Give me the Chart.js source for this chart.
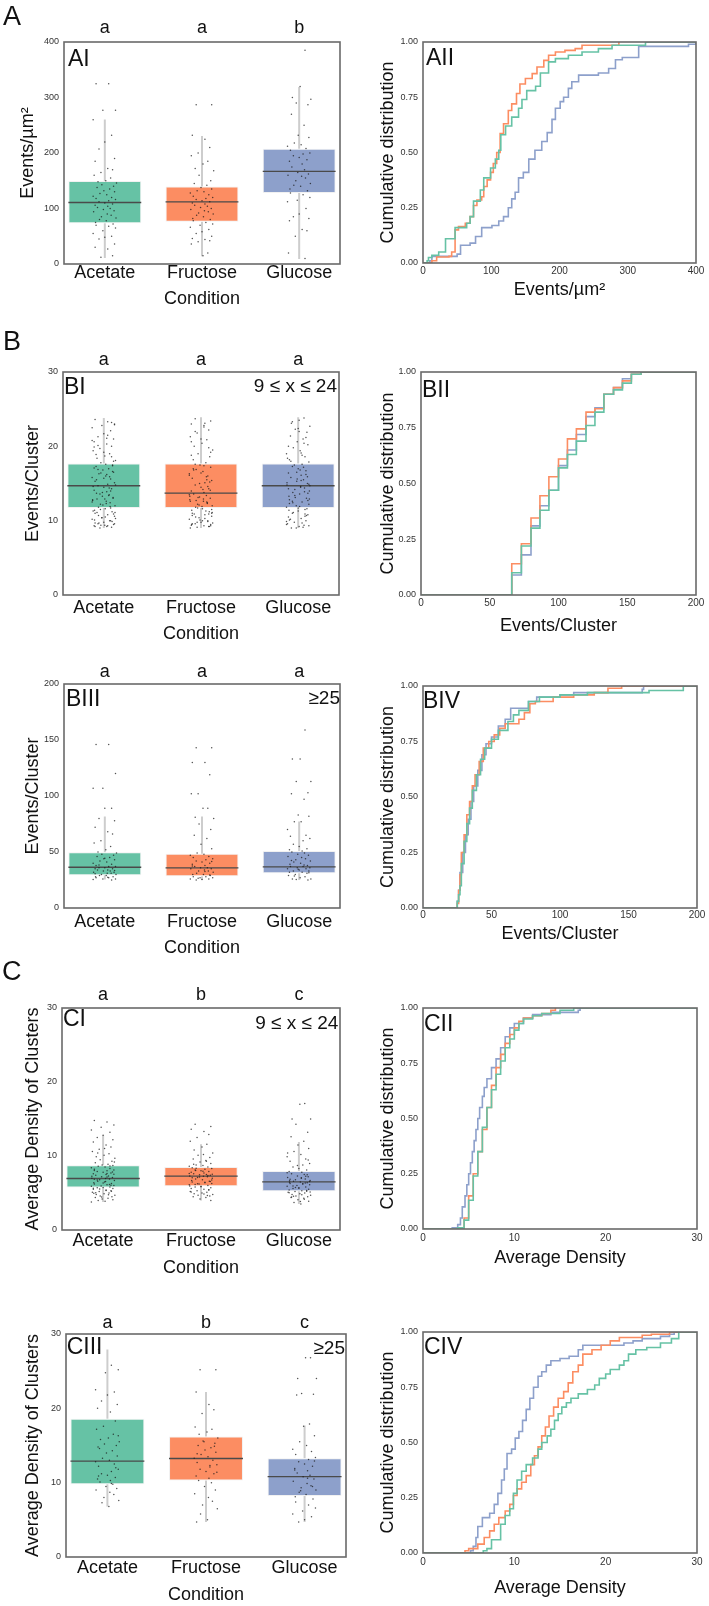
<!DOCTYPE html>
<html><head><meta charset="utf-8">
<script src="https://cdn.jsdelivr.net/npm/chart.js@4.4.1/dist/chart.umd.min.js"></script>
<style>
html,body{margin:0;padding:0;background:#fff;}
#wrap{position:relative;width:709px;height:1606px;overflow:hidden;font-family:"Liberation Sans",Arial,sans-serif;color:#111;}
canvas{position:absolute;}
.lbl{position:absolute;line-height:1;white-space:nowrap;color:#111;}
</style></head><body><div id="wrap"></div>
<script>
// ---------- categories ----------
const GROUPS = ['Acetate', 'Fructose', 'Glucose'];
const GROUP_COLORS = ['#66c2a5', '#fc8d62', '#8da0cb'];
const JIT = [-0.09,0.04,0.11,-0.02,-0.12,0.07,0.00,-0.06,0.10,-0.10,0.03,0.08,-0.04,-0.11,0.06,0.01,-0.07,0.12,-0.03,0.09,-0.08,0.05,-0.01,0.10,-0.05,0.02,-0.12,0.07,-0.09,0.11,0.04,-0.06,0.00,0.08,-0.10,0.03,-0.075,0.055,-0.015,0.095,-0.115,0.025,0.065,-0.035,0.115,-0.055,0.015,-0.095,0.085];

// ---------- AI : Events/µm² ----------
const AI_LETTERS = ['a', 'a', 'b'];
const AI_Q1 = [73.6, 76, 128];
const AI_MED = [110.8, 112, 167];
const AI_Q3 = [149.7, 139.5, 207.8];
const AI_LO = [10.8, 13.8, 9];
const AI_HI = [260.5, 230.5, 319];
const AI_ACETATE = [325,325,277,277,260,232,220,207,190,185,172,170,165,160,155,150,148,146,143,140,138,135,132,130,127,125,122,120,118,116,114,112,110,108,106,104,102,100,98,96,94,90,88,85,83,80,78,75,72,70,68,65,60,55,50,48,45,36,30,27,15,12];
const AI_FRUCTOSE = [287,287,232,225,210,200,195,185,180,172,168,160,150,145,142,138,135,132,130,128,125,122,120,118,116,114,112,110,108,106,104,102,100,98,96,94,92,90,88,85,82,80,78,75,72,70,66,62,58,55,50,46,44,42,40,36,20,15];
const AI_GLUCOSE = [385,320,300,297,290,287,270,250,232,228,218,215,212,208,205,200,198,195,192,188,185,180,175,170,165,162,160,158,155,150,145,142,140,135,132,128,125,120,115,112,100,90,85,82,78,62,60,50,20,10];

// ---------- AII ----------
const AII_ACETATE = [[0,0],[6,0.01],[8,0.025],[13,0.035],[23,0.05],[33,0.11],[47,0.16],[64,0.18],[69,0.21],[74,0.28],[84,0.33],[89,0.385],[99,0.43],[106,0.47],[111,0.51],[114,0.58],[121,0.62],[130,0.66],[140,0.70],[145,0.74],[152,0.78],[165,0.80],[172,0.86],[184,0.91],[194,0.925],[213,0.94],[233,0.955],[257,0.97],[277,0.985],[326,1.0],[400,1.0]];
const AII_FRUCTOSE = [[0,0],[13,0.01],[20,0.027],[38,0.03],[42,0.05],[47,0.15],[52,0.165],[62,0.18],[69,0.21],[74,0.26],[79,0.285],[86,0.30],[89,0.346],[94,0.376],[99,0.41],[103,0.45],[108,0.50],[113,0.586],[118,0.63],[125,0.69],[130,0.72],[137,0.767],[142,0.81],[150,0.835],[160,0.857],[167,0.887],[177,0.917],[184,0.94],[194,0.955],[208,0.962],[223,0.97],[233,0.985],[287,1.0]];
const AII_GLUCOSE = [[0,0],[10,0.01],[13,0.03],[50,0.04],[55,0.08],[69,0.09],[77,0.12],[86,0.16],[101,0.17],[111,0.19],[118,0.21],[125,0.25],[130,0.29],[135,0.32],[140,0.385],[147,0.41],[155,0.47],[164,0.51],[174,0.55],[182,0.59],[189,0.65],[194,0.70],[201,0.73],[206,0.75],[213,0.79],[218,0.82],[228,0.85],[257,0.86],[272,0.88],[282,0.92],[292,0.93],[316,0.98],[389,0.99],[400,1.0]];

// ---------- BI : Events/Cluster 9-24 ----------
const BI_LETTERS = ['a', 'a', 'a'];
const BI_Q1 = [11.7, 11.7, 11.7];
const BI_MED = [14.7, 13.7, 14.7];
const BI_Q3 = [17.7, 17.7, 17.7];
const BI_LO = [9, 9, 9];
const BI_HI = [23.8, 23.9, 23.9];
const BI_ACETATE = [23.6,23.3,23.0,22.8,22.5,22.1,21.7,21.3,21.0,20.6,20.3,20.0,19.7,19.4,19.0,18.7,18.4,18.1,17.8,17.5,17.3,17.0,16.8,16.5,16.3,16.0,15.8,15.6,15.3,15.1,14.9,14.7,14.5,14.3,14.1,13.9,13.7,13.5,13.3,13.0,12.8,12.6,12.4,12.2,12.0,11.8,11.6,11.4,11.2,11.0,10.8,10.6,10.4,10.2,10.0,9.8,9.6,9.5,9.3,9.2,9.1,9.0,14.6,15.9,12.9,11.1,10.3,9.4,16.6,18.9,13.4,12.1,10.9,9.7,17.6,20.8,11.7,9.2,22.9,21.5,20.1,19.2,18.6,17.1,16.2,15.5,14.4,13.8,13.1,12.7,12.3,11.9,11.5,11.1,10.7,10.5,10.1,9.9,9.7,9.3,9.6,10.4,12.5,14.0,15.7,16.9,18.0,19.9,21.1,23.2,13.6,11.3,10.0,9.4,12.9,14.8,16.4,17.4];
const BI_FRUCTOSE = [23.7,23.4,23.0,22.6,22.2,21.8,21.3,20.9,20.4,20.0,19.5,19.0,18.6,18.2,17.8,17.5,17.2,16.9,16.6,16.3,16.0,15.7,15.4,15.1,14.8,14.5,14.3,14.0,13.8,13.6,13.4,13.2,13.0,12.8,12.6,12.4,12.2,12.0,11.8,11.6,11.4,11.2,11.0,10.8,10.6,10.4,10.2,10.0,9.8,9.6,9.5,9.4,9.3,9.2,9.1,9.0,12.5,11.9,10.9,9.7,13.1,15.2,17.0,11.3,10.1,9.3,12.7,14.2,16.1,9.9,10.7,11.5,23.1,22.0,21.0,19.8,18.8,17.4,16.8,15.9,15.0,14.1,13.3,12.9,12.3,11.7,11.1,10.5,10.0,9.5,9.2,9.6,10.3,11.0,12.1,13.5,14.6,16.4,17.6,19.2,20.6,22.8,10.9,9.8,12.6,15.5];
const BI_GLUCOSE = [23.8,23.5,23.1,22.7,22.3,21.9,21.4,21.0,20.6,20.2,19.8,19.4,19.0,18.6,18.2,17.9,17.6,17.3,17.0,16.7,16.4,16.1,15.8,15.5,15.3,15.0,14.8,14.6,14.4,14.2,14.0,13.8,13.6,13.3,13.0,12.8,12.5,12.2,12.0,11.8,11.5,11.3,11.0,10.8,10.5,10.3,10.0,9.8,9.6,9.4,9.2,9.0,14.7,13.1,11.6,10.2,9.1,15.6,12.7,11.1,16.8,9.5,10.9,12.3,14.9,18.8,23.3,22.4,21.2,20.0,19.1,18.0,17.2,16.5,15.9,15.1,14.5,13.9,13.4,12.9,12.4,11.9,11.4,10.7,10.1,9.7,9.3,9.0,9.9,10.6,11.7,12.6,13.7,14.3,15.4,16.2,17.5,18.4,20.4,22.0];

// ---------- BII ----------
const BII_ACETATE = [[0,0],[66,0.10],[73,0.22],[80,0.30],[86.5,0.38],[93,0.47],[100,0.57],[106.5,0.63],[113,0.69],[120,0.76],[126.5,0.82],[133,0.90],[140,0.92],[146.5,0.95],[153,0.99],[160,1.0],[200,1.0]];
const BII_FRUCTOSE = [[0,0],[66,0.14],[73,0.23],[80,0.345],[86.5,0.445],[93,0.53],[100,0.61],[106.5,0.70],[113,0.745],[120,0.82],[126.5,0.835],[133,0.90],[140,0.93],[146.5,0.96],[153,0.99],[160,1.0],[200,1.0]];
const BII_GLUCOSE = [[0,0],[66,0.09],[73,0.18],[80,0.31],[86.5,0.40],[93,0.47],[100,0.58],[106.5,0.65],[113,0.72],[120,0.80],[126.5,0.84],[133,0.90],[140,0.93],[146.5,0.97],[153,0.99],[160,1.0],[200,1.0]];

// ---------- BIII : Events/Cluster >=25 ----------
const BIII_LETTERS = ['a', 'a', 'a'];
const BIII_Q1 = [29.2, 28.3, 31];
const BIII_MED = [36.4, 35.8, 36.7];
const BIII_Q3 = [49.7, 48.5, 51];
const BIII_LO = [25.4, 25, 25];
const BIII_HI = [81.8, 81.8, 77.3];
const BIII_ACETATE = [146,146,120,107,107,89,89,80,78,72,68,66,60,58,55,52,50,49,48,47,46,45,44,43,42,41,40,39,38,37,37,36,36,35,35,34,34,33,33,32,32,31,31,30,30,29,29,28,28,27,27,26,26,25.5,25,44.5,38.5,33.5,30.5,27.5];
const BIII_FRUCTOSE = [143,143,130,130,119,102,102,89,89,81,80,75,70,65,62,57,53,49,48,47,46,45,44,43,42,41,40,39,38,37,36,36,35,35,34,33,33,32,31,30,30,29,28,28,27,27,26,26,25.5,25,41.5,37.5,32.5,29.5,26.5];
const BIII_GLUCOSE = [159,133,133,113,113,103,102,97,83,82,77,77,70,65,64,62,60,57,55,53,52,51,50,49,48,47,46,45,44,43,42,41,40,39,38,37,37,36,36,35,35,34,33,33,32,32,31,30,29,28,27,26,26,25.5,25,42.5,38.5,34.5,31.5,28.5];

// ---------- BIV ----------
const BIV_ACETATE = [[0,0],[25,0.03],[26,0.06],[27,0.10],[28,0.20],[30,0.30],[32,0.38],[34,0.45],[36,0.53],[39,0.60],[42,0.67],[45,0.72],[50,0.76],[55,0.80],[62,0.84],[66,0.87],[70,0.89],[77,0.93],[85,0.95],[100,0.96],[120,0.97],[165,0.98],[190,1.0],[200,1.0]];
const BIV_FRUCTOSE = [[0,0],[25,0.02],[26,0.08],[27,0.15],[28,0.25],[30,0.33],[32,0.42],[34,0.48],[36,0.55],[38,0.60],[41,0.66],[44,0.72],[48,0.75],[52,0.78],[56,0.81],[60,0.83],[70,0.85],[74,0.88],[78,0.92],[82,0.93],[95,0.95],[110,0.96],[125,0.97],[135,0.99],[145,1.0],[200,1.0]];
const BIV_GLUCOSE = [[0,0],[25,0.03],[26,0.08],[27,0.16],[29,0.25],[31,0.33],[33,0.40],[35,0.48],[37,0.55],[40,0.62],[43,0.69],[46,0.74],[50,0.77],[55,0.82],[60,0.85],[64,0.90],[77,0.93],[83,0.95],[100,0.96],[110,0.97],[160,0.985],[161,1.0],[200,1.0]];

// ---------- CI : Average Density 9-24 ----------
const CI_LETTERS = ['a', 'b', 'c'];
const CI_Q1 = [5.75, 5.9, 5.25];
const CI_MED = [6.96, 7.27, 6.5];
const CI_Q3 = [8.75, 8.5, 7.98];
const CI_LO = [3.8, 4.0, 3.5];
const CI_HI = [12.8, 11.6, 11.9];
const CI_ACETATE = [14.8,14.6,14.2,13.9,13.5,13.2,12.8,12.5,12.2,11.9,11.5,11.2,10.9,10.6,10.3,10.1,9.9,9.7,9.5,9.3,9.1,8.9,8.8,8.7,8.6,8.5,8.4,8.3,8.2,8.1,8.0,7.9,7.8,7.7,7.6,7.5,7.4,7.3,7.2,7.1,7.0,6.95,6.9,6.8,6.7,6.6,6.5,6.4,6.3,6.2,6.1,6.0,5.95,5.9,5.8,5.75,5.7,5.6,5.5,5.4,5.3,5.2,5.1,5.0,4.9,4.8,4.7,4.6,4.5,4.4,4.3,4.2,4.1,4.0,3.9,3.8,8.65,8.05,7.55,7.15,6.75,6.35,6.05,5.65,5.35,5.05,4.75,4.45,7.85,7.25,6.55,6.15,5.55,9.2,10.4,11.0,4.95,5.25,6.85,7.65];
const CI_FRUCTOSE = [14.3,14.0,13.6,13.3,12.9,12.5,12.0,11.6,11.2,10.8,10.4,10.1,9.8,9.6,9.4,9.2,9.0,8.8,8.7,8.6,8.5,8.4,8.3,8.2,8.1,8.0,7.9,7.8,7.7,7.6,7.5,7.45,7.4,7.3,7.25,7.2,7.1,7.0,6.9,6.8,6.7,6.6,6.5,6.4,6.3,6.2,6.1,6.0,5.9,5.8,5.7,5.6,5.5,5.4,5.3,5.2,5.1,5.0,4.9,4.8,4.7,4.6,4.5,4.4,4.2,4.0,8.35,7.95,7.65,7.35,7.05,6.75,6.45,6.15,5.85,5.45,5.15,4.85,8.9,9.3,7.15,6.55,5.95,10.2,4.65,6.25,7.55,8.05];
const CI_GLUCOSE = [17.1,17.0,15.0,15.0,14.3,13.2,12.6,12.0,11.5,11.0,10.6,10.2,9.9,9.6,9.3,9.0,8.8,8.5,8.3,8.1,7.9,7.8,7.6,7.5,7.3,7.2,7.1,7.0,6.9,6.8,6.7,6.6,6.5,6.45,6.4,6.3,6.2,6.1,6.0,5.9,5.8,5.7,5.6,5.5,5.4,5.3,5.25,5.2,5.1,5.0,4.9,4.8,4.7,4.6,4.5,4.4,4.3,4.1,3.9,3.7,3.5,7.75,7.25,6.85,6.55,6.25,5.95,5.65,5.35,5.05,4.75,4.45,4.15,8.7,9.45,10.4,7.05,6.35,5.75,5.15,4.55,3.85,6.65,7.45];

// ---------- CII ----------
const CII_ACETATE = [[0,0],[3.8,0.005],[4.5,0.04],[5.0,0.13],[5.5,0.24],[6.0,0.35],[6.5,0.46],[7.0,0.55],[7.5,0.63],[8.0,0.70],[8.5,0.76],[9.0,0.82],[9.5,0.86],[10.0,0.90],[10.5,0.93],[11,0.95],[12,0.965],[13,0.975],[15,0.99],[16.5,1.0],[30,1.0]];
const CII_FRUCTOSE = [[0,0],[3.8,0.005],[4.5,0.05],[5.0,0.15],[5.5,0.25],[6.0,0.35],[6.5,0.45],[7.0,0.55],[7.5,0.65],[8.0,0.73],[8.5,0.79],[9.0,0.84],[9.5,0.88],[10.0,0.91],[10.5,0.94],[11,0.955],[12,0.965],[13,0.975],[14,0.99],[14.5,1.0]];
const CII_GLUCOSE = [[0,0],[3.2,0.005],[3.8,0.02],[4.1,0.05],[4.3,0.10],[4.6,0.15],[4.8,0.20],[5.0,0.25],[5.2,0.30],[5.4,0.35],[5.6,0.40],[5.8,0.45],[6.0,0.50],[6.2,0.55],[6.5,0.60],[6.7,0.64],[7.0,0.68],[7.5,0.73],[8.0,0.77],[8.5,0.82],[9.0,0.87],[9.5,0.91],[10,0.93],[11,0.955],[12,0.97],[14,0.98],[17,0.99],[17.2,1.0]];

// ---------- CIII : Average Density >=25 ----------
const CIII_LETTERS = ['a', 'b', 'c'];
const CIII_Q1 = [9.8, 10.3, 8.2];
const CIII_MED = [12.9, 13.25, 10.8];
const CIII_Q3 = [18.6, 16.2, 13.3];
const CIII_LO = [6.8, 4.7, 4.7];
const CIII_HI = [27.9, 22.2, 17.7];
const CIII_ACETATE = [27.9,25.8,25.2,24.8,22.5,22.2,21.8,21.0,20.5,20.0,19.5,18.3,17.6,17.2,16.5,16.0,15.8,15.5,15.2,15.0,14.6,14.3,14.0,13.6,13.3,13.0,12.8,12.5,12.2,11.8,11.5,11.2,11.0,10.7,10.5,10.3,10.1,9.8,9.5,9.2,9.0,8.7,8.4,8.0,7.6,7.3,6.8,14.8,12.0,10.9,9.9,16.3];
const CIII_FRUCTOSE = [25.2,25.2,22.2,20.5,19.8,19.3,17.5,17.2,16.8,16.5,16.0,15.6,15.3,15.0,14.7,14.4,14.1,13.8,13.5,13.3,13.0,12.7,12.4,12.1,11.8,11.5,11.2,10.9,10.6,10.3,10.0,9.5,9.0,8.5,8.0,7.5,7.0,6.5,5.8,5.0,4.7,14.9,13.9,12.3,11.4,15.5];
const CIII_GLUCOSE = [26.8,26.8,24.0,24.0,22.0,21.9,21.8,17.9,17.6,16.3,15.5,15.0,14.5,14.2,13.8,13.4,13.1,12.8,12.5,12.2,11.9,11.6,11.3,11.0,10.8,10.5,10.2,9.9,9.6,9.3,9.0,8.7,8.4,8.1,7.8,7.4,7.0,6.6,6.2,5.8,5.4,5.0,4.7,12.9,11.7,10.6,9.5,8.9];

// ---------- CIV ----------
const CIV_ACETATE = [[0,0],[6.6,0.01],[7.0,0.02],[7.5,0.06],[8.5,0.13],[9.0,0.17],[9.5,0.20],[9.9,0.27],[10.3,0.33],[10.8,0.37],[11.3,0.40],[12.0,0.43],[12.6,0.47],[13.0,0.50],[13.6,0.53],[14.0,0.56],[14.4,0.60],[14.8,0.63],[15.2,0.66],[15.7,0.68],[16.2,0.70],[17.0,0.72],[18.0,0.74],[18.8,0.76],[19.3,0.79],[20.0,0.81],[20.5,0.83],[21.5,0.85],[22.0,0.87],[22.5,0.90],[23.3,0.92],[24.5,0.93],[26.0,0.95],[27.2,0.97],[28,1.0],[30,1.0]];
const CIV_FRUCTOSE = [[0,0],[4.6,0.01],[5.0,0.02],[6.0,0.04],[6.7,0.07],[7.3,0.10],[7.8,0.13],[8.3,0.16],[9.0,0.19],[9.5,0.22],[9.9,0.26],[10.3,0.29],[10.8,0.32],[11.3,0.35],[11.8,0.40],[12.2,0.44],[12.6,0.48],[13.0,0.53],[13.4,0.57],[13.8,0.62],[14.3,0.66],[14.8,0.70],[15.4,0.73],[15.9,0.77],[16.4,0.82],[17.0,0.85],[17.5,0.90],[18.5,0.92],[19.5,0.94],[20.5,0.96],[21.5,0.975],[24,0.985],[25,0.99],[27,1.0],[30,1.0]];
const CIV_GLUCOSE = [[0,0],[5.2,0.01],[5.5,0.03],[5.8,0.07],[6.0,0.12],[6.5,0.16],[7.3,0.18],[7.8,0.22],[8.2,0.27],[8.6,0.33],[8.9,0.38],[9.2,0.45],[9.7,0.47],[10.1,0.52],[10.5,0.55],[10.9,0.60],[11.3,0.65],[11.7,0.70],[12.1,0.75],[12.6,0.80],[13.0,0.82],[13.5,0.85],[14.0,0.87],[15.0,0.88],[16.0,0.89],[17.0,0.92],[17.5,0.94],[22,0.95],[23,0.96],[24,0.97],[26,0.98],[27,0.99],[27.5,1.0],[30,1.0]];

// ================= drawing =================
const FONT = '"Liberation Sans", Arial, Helvetica, sans-serif';
const wrap = document.getElementById('wrap');
const X_MIN = -0.42, X_MAX = 2.42, BOX_W = 0.75;

function addCanvas(x, y, w, h) {
  const c = document.createElement('canvas');
  c.width = w; c.height = h;
  c.style.left = x + 'px'; c.style.top = y + 'px';
  c.style.width = w + 'px'; c.style.height = h + 'px';
  wrap.appendChild(c);
  return c;
}
function addLabel(text, size, left, top, right) {
  const d = document.createElement('div');
  d.className = 'lbl';
  d.textContent = text;
  d.style.fontSize = size + 'px';
  d.style.top = top + 'px';
  if (right !== undefined) d.style.right = right + 'px'; else d.style.left = left + 'px';
  wrap.appendChild(d);
}
const framePlugin = {
  id: 'frame',
  afterDraw(chart) {
    const { ctx, chartArea: a } = chart;
    ctx.save();
    ctx.strokeStyle = '#6a6a6a';
    ctx.lineWidth = 1.6;
    ctx.strokeRect(a.left, a.top, a.right - a.left, a.bottom - a.top);
    ctx.restore();
  }
};
const f = (size) => ({ family: FONT, size: size, lineHeight: 1 });

function boxChart(p) {
  const [l, t, r, b] = p.plot;
  const cx = 0, cw = 355, cy = t - 40, cb = Math.min(b + 50, 1606), ch = cb - cy;
  const c = addCanvas(cx, cy, cw, ch);
  const boxes = GROUPS.map((g, i) => ({ x: i, y: [p.q1[i], p.q3[i]] }));
  const whisk = [], med = [], dots = [];
  GROUPS.forEach((g, i) => {
    whisk.push({ x: i, y: p.lo[i] }, { x: i, y: p.q1[i] }, { x: i, y: null },
               { x: i, y: p.q3[i] }, { x: i, y: p.hi[i] }, { x: i, y: null });
    med.push({ x: i - BOX_W / 2, y: p.med[i] }, { x: i + BOX_W / 2, y: p.med[i] }, { x: i, y: null });
    p.dots[i].forEach((v, k) => dots.push({ x: i + JIT[(k + i * 7) % JIT.length], y: v }));
  });
  new Chart(c, {
    type: 'bar',
    data: { datasets: [
      { type: 'scatter', data: dots, pointRadius: 0.75, pointBackgroundColor: 'rgba(25,25,25,0.75)', pointBorderWidth: 0, order: 0 },
      { type: 'line', data: med, borderColor: '#4a4a4a', borderWidth: 1.3, pointRadius: 0, spanGaps: false, order: 1 },
      { type: 'bar', data: boxes, backgroundColor: GROUP_COLORS, borderColor: 'rgba(235,235,235,0.7)', borderWidth: 1, borderSkipped: false, barPercentage: BOX_W, categoryPercentage: 1, grouped: false, order: 2 },
      { type: 'line', data: whisk, borderColor: '#cdcdcd', borderWidth: 2, pointRadius: 0, spanGaps: false, order: 3 }
    ] },
    options: {
      responsive: false, animation: false, events: [],
      layout: { padding: { left: 0, right: cx + cw - r, top: 0, bottom: 0 } },
      plugins: { legend: { display: false }, tooltip: { enabled: false } },
      scales: {
        x: {
          type: 'linear', position: 'bottom', min: X_MIN, max: X_MAX, offset: false,
          afterBuildTicks: s => { s.ticks = GROUPS.map((g, i) => ({ value: i })); },
          ticks: { callback: v => GROUPS[v], autoSkip: false, maxRotation: 0, font: f(18), color: '#111', padding: p.tickY - b - 9 },
          grid: { display: false, drawTicks: false }, border: { display: false },
          title: { display: true, text: 'Condition', font: f(18), color: '#111', padding: { top: 0, bottom: cb - p.titleY - 9 } },
          afterFit: s => { s.height = cb - b; }
        },
        x2: {
          type: 'linear', position: 'top', min: X_MIN, max: X_MAX, offset: false,
          afterBuildTicks: s => { s.ticks = GROUPS.map((g, i) => ({ value: i })); },
          ticks: { callback: v => p.letters[v], autoSkip: false, maxRotation: 0, font: f(18), color: '#111', padding: t - p.letterY - 9 },
          grid: { display: false, drawTicks: false }, border: { display: false },
          afterFit: s => { s.height = t - cy; }
        },
        y: {
          type: 'linear', min: 0, max: p.yMax,
          ticks: { stepSize: p.yStep, font: { family: FONT, size: 9 }, color: '#333', padding: 5 },
          grid: { display: false, drawTicks: false }, border: { display: false },
          title: { display: true, text: p.yTitle, font: f(18), color: '#111', padding: { top: p.yTitleX - cx - 9, bottom: 0 } },
          afterFit: s => { s.width = l - cx; }
        }
      }
    },
    plugins: [framePlugin]
  });
}

function cdfChart(p) {
  const [l, t, r, b] = p.plot;
  const cx = 355, cw = 354, cy = t - 12, cb = Math.min(b + 50, 1606), ch = cb - cy;
  const c = addCanvas(cx, cy, cw, ch);
  new Chart(c, {
    type: 'line',
    data: { datasets: p.series.map((s, i) => ({
      data: s.map(([x, y]) => ({ x: x, y: y })), borderColor: GROUP_COLORS[i], borderWidth: 1.6,
      pointRadius: 0, stepped: true, fill: false, tension: 0
    })) },
    options: {
      responsive: false, animation: false, events: [],
      layout: { padding: { left: 0, right: cx + cw - r, top: t - cy, bottom: 0 } },
      plugins: { legend: { display: false }, tooltip: { enabled: false } },
      scales: {
        x: {
          type: 'linear', min: 0, max: p.xMax,
          ticks: { stepSize: p.xStep, font: f(10), color: '#333', padding: p.tickY - b - 5, maxRotation: 0 },
          grid: { display: false, drawTicks: false }, border: { display: false },
          title: { display: true, text: p.xTitle, font: f(18), color: '#111', padding: { top: 0, bottom: cb - p.titleY - 9 } },
          afterFit: s => { s.height = cb - b; }
        },
        y: {
          type: 'linear', min: 0, max: 1,
          ticks: { stepSize: 0.25, callback: v => v.toFixed(2), font: { family: FONT, size: 9 }, color: '#333', padding: 5 },
          grid: { display: false, drawTicks: false }, border: { display: false },
          title: { display: true, text: 'Cumulative distribution', font: f(18), color: '#111', padding: { top: p.yTitleX - cx - 9, bottom: 0 } },
          afterFit: s => { s.width = l - cx; }
        }
      }
    },
    plugins: [framePlugin]
  });
}

boxChart({ plot: [64, 42, 340, 264], yMax: 400, yStep: 100, yTitle: 'Events/µm²', letters: AI_LETTERS,
  q1: AI_Q1, med: AI_MED, q3: AI_Q3, lo: AI_LO, hi: AI_HI, dots: [AI_ACETATE, AI_FRUCTOSE, AI_GLUCOSE],
  tickY: 273, titleY: 299, letterY: 28, yTitleX: 28 });
boxChart({ plot: [63, 372, 339, 595], yMax: 30, yStep: 10, yTitle: 'Events/Cluster', letters: BI_LETTERS,
  q1: BI_Q1, med: BI_MED, q3: BI_Q3, lo: BI_LO, hi: BI_HI, dots: [BI_ACETATE, BI_FRUCTOSE, BI_GLUCOSE],
  tickY: 608, titleY: 634, letterY: 360, yTitleX: 33 });
boxChart({ plot: [64, 684, 340, 908], yMax: 200, yStep: 50, yTitle: 'Events/Cluster', letters: BIII_LETTERS,
  q1: BIII_Q1, med: BIII_MED, q3: BIII_Q3, lo: BIII_LO, hi: BIII_HI, dots: [BIII_ACETATE, BIII_FRUCTOSE, BIII_GLUCOSE],
  tickY: 922, titleY: 948, letterY: 672, yTitleX: 33 });
boxChart({ plot: [62, 1008, 340, 1230], yMax: 30, yStep: 10, yTitle: 'Average Density of Clusters', letters: CI_LETTERS,
  q1: CI_Q1, med: CI_MED, q3: CI_Q3, lo: CI_LO, hi: CI_HI, dots: [CI_ACETATE, CI_FRUCTOSE, CI_GLUCOSE],
  tickY: 1241, titleY: 1268, letterY: 995, yTitleX: 33 });
boxChart({ plot: [66, 1334, 346, 1557], yMax: 30, yStep: 10, yTitle: 'Average Density of Clusters', letters: CIII_LETTERS,
  q1: CIII_Q1, med: CIII_MED, q3: CIII_Q3, lo: CIII_LO, hi: CIII_HI, dots: [CIII_ACETATE, CIII_FRUCTOSE, CIII_GLUCOSE],
  tickY: 1568, titleY: 1595, letterY: 1323, yTitleX: 33 });

cdfChart({ plot: [423, 42, 696, 263], xMax: 400, xStep: 100, xTitle: 'Events/µm²', series: [AII_ACETATE, AII_FRUCTOSE, AII_GLUCOSE], tickY: 271, titleY: 290, yTitleX: 388 });
cdfChart({ plot: [421, 372, 696, 595], xMax: 200, xStep: 50, xTitle: 'Events/Cluster', series: [BII_ACETATE, BII_FRUCTOSE, BII_GLUCOSE], tickY: 603, titleY: 626, yTitleX: 388 });
cdfChart({ plot: [423, 686, 697, 908], xMax: 200, xStep: 50, xTitle: 'Events/Cluster', series: [BIV_ACETATE, BIV_FRUCTOSE, BIV_GLUCOSE], tickY: 915, titleY: 934, yTitleX: 388 });
cdfChart({ plot: [423, 1008, 697, 1229], xMax: 30, xStep: 10, xTitle: 'Average Density', series: [CII_ACETATE, CII_FRUCTOSE, CII_GLUCOSE], tickY: 1238, titleY: 1258, yTitleX: 388 });
cdfChart({ plot: [423, 1332, 697, 1553], xMax: 30, xStep: 10, xTitle: 'Average Density', series: [CIV_ACETATE, CIV_FRUCTOSE, CIV_GLUCOSE], tickY: 1562, titleY: 1588, yTitleX: 388 });

// panel letters and inner labels
addLabel('A', 27, 3, 3);
addLabel('B', 27, 3, 327.8);
addLabel('C', 27, 2, 957.8);
addLabel('AI', 23, 68, 47);
addLabel('AII', 23, 426, 46);
addLabel('BI', 23, 64, 375);
addLabel('BII', 23, 422, 378);
addLabel('BIII', 23, 66, 687);
addLabel('BIV', 23, 423, 689);
addLabel('CI', 23, 63, 1007);
addLabel('CII', 23, 424, 1012);
addLabel('CIII', 23, 66.7, 1335);
addLabel('CIV', 23, 424, 1335);
addLabel('9 \u2264 x \u2264 24', 19, 0, 375.5, 372);
addLabel('9 \u2264 x \u2264 24', 19, 0, 1012.5, 370.7);
addLabel('\u226525', 19, 0, 687.5, 369);
addLabel('\u226525', 19, 0, 1337.5, 364);
</script>
</body></html>
